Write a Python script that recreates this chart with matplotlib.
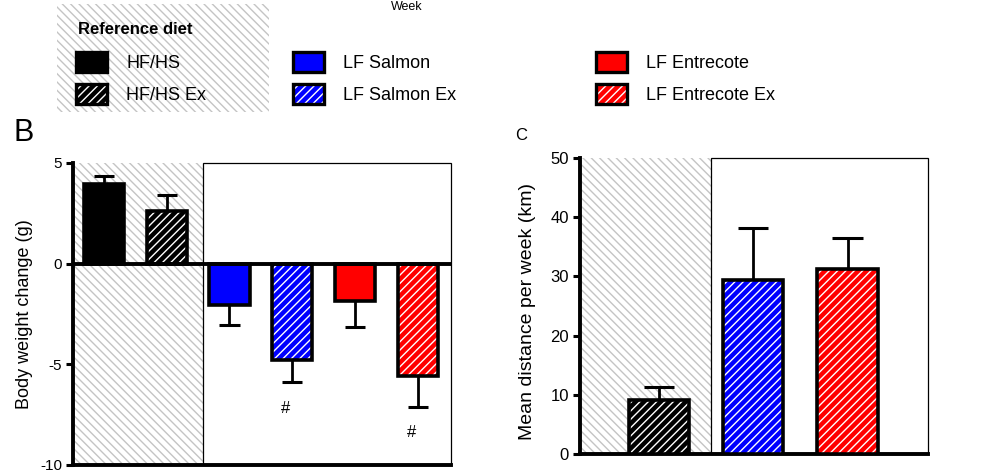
import matplotlib
matplotlib.use('Agg')
import matplotlib.pyplot as plt
from matplotlib.patches import Rectangle

plt.rcParams['font.family'] = ['Liberation Sans', 'DejaVu Sans']
plt.rcParams['axes.unicode_minus'] = False
plt.rcParams['hatch.linewidth'] = 1.0

# groups / legend
groups = ['HF/HS', 'HF/HS Ex', 'LF Salmon', 'LF Salmon Ex', 'LF Entrecote', 'LF Entrecote Ex']
group_colors = ['black', 'black', 'blue', 'blue', 'red', 'red']
group_hatched = [False, True, False, True, False, True]

# panel B: body weight change (g), mean and SEM
weight_change = [3.97, 2.63, -2.03, -4.80, -1.87, -5.58]
weight_sem = [0.37, 0.76, 1.04, 1.07, 1.30, 1.52]
weight_sig = ['', '', '', '#', '', '#']
ticks_b = [-10, -5, 0, 5]

# panel C: mean running distance per week (km), exercise groups only
groups_c = ['HF/HS Ex', 'LF Salmon Ex', 'LF Entrecote Ex']
distance = [9.15, 29.3, 31.2]
distance_sem = [2.15, 8.9, 5.3]
colors_c = ['black', 'blue', 'red']
ticks_c = [0, 10, 20, 30, 40, 50]

W, H = 997, 475
grey = '#c4c4c4'
bar_hatch = '////'
bg_hatch = '\\\\\\\\'

fig = plt.figure(figsize=(W / 100, H / 100), dpi=100)


def fig_rect(x0, y0, w, h, **kw):
    # rectangle given in pixels from top-left
    r = Rectangle((x0 / W, 1 - (y0 + h) / H), w / W, h / H, transform=fig.transFigure, **kw)
    fig.add_artist(r)
    return r


def draw_bars(ax, xs, vals, sems, cols, hatched, width=0.64):
    for x, v, e, c, h in zip(xs, vals, sems, cols, hatched):
        end = v + e if v >= 0 else v - e
        ax.vlines(x, v, end, color='black', lw=2.0, zorder=2)
        ax.hlines(end, x - width / 4, x + width / 4, color='black', lw=2.2, zorder=2)
        if h:
            ax.bar(x, v, width=width, color=c, edgecolor='white', hatch=bar_hatch, lw=0, zorder=3)
        else:
            ax.bar(x, v, width=width, color=c, lw=0, zorder=3)
        ax.bar(x, v, width=width, facecolor='none', edgecolor='black', lw=2.6, zorder=4)


def style_axis(ax, ticks, fs):
    for s in ['top', 'right']:
        ax.spines[s].set_visible(False)
    ax.spines['left'].set_linewidth(2.8)
    ax.spines['bottom'].set_linewidth(2.8)
    ax.set_xticks([])
    ax.set_yticks(ticks)
    ax.tick_params(axis='y', length=5, width=2.2, labelsize=fs, pad=3)


# ---- panel B ----
ax_b = fig.add_axes([73 / W, 10 / H, 378 / W, 302 / H])
xb = list(range(len(groups)))
xlim_b = (-0.494, 5.53)
split_b = 1.579
ax_b.set_xlim(*xlim_b)
ax_b.set_ylim(-10, 5)
ax_b.axvspan(xlim_b[0], split_b, facecolor='white', edgecolor=grey, hatch=bg_hatch, lw=0, zorder=0)
ax_b.add_patch(Rectangle((split_b, -10), xlim_b[1] - split_b, 15, fill=False,
                         edgecolor='black', lw=0.9, zorder=1, clip_on=False))
draw_bars(ax_b, xb, weight_change, weight_sem, group_colors, group_hatched)
ax_b.axhline(0, color='black', lw=2.8, zorder=5)
for x, v, e, s in zip(xb, weight_change, weight_sem, weight_sig):
    if s:
        ax_b.text(x - 0.1, v - e - 1.3, s, ha='center', va='center', fontsize=12)
style_axis(ax_b, ticks_b, 11)
ax_b.set_ylabel('Body weight change (g)', fontsize=13)
ax_b.yaxis.set_label_coords(-0.105, 0.5)

# ---- panel C ----
ax_c = fig.add_axes([580 / W, 20.7 / H, 348 / W, 296.6 / H])
xc = list(range(len(groups_c)))
xlim_c = (-0.838, 2.854)
split_c = 0.552
ax_c.set_xlim(*xlim_c)
ax_c.set_ylim(0, 50)
ax_c.axvspan(xlim_c[0], split_c, facecolor='white', edgecolor=grey, hatch=bg_hatch, lw=0, zorder=0)
ax_c.add_patch(Rectangle((split_c, 0), xlim_c[1] - split_c, 50, fill=False,
                         edgecolor='black', lw=0.9, zorder=1, clip_on=False))
draw_bars(ax_c, xc, distance, distance_sem, colors_c, [True] * 3)
style_axis(ax_c, ticks_c, 12)
ax_c.set_ylabel('Mean distance per week (km)', fontsize=14)
ax_c.yaxis.set_label_coords(-0.125, 0.48)

# ---- panel letters and header ----
fig.text(13 / W, 1 - 141 / H, 'B', fontsize=22, ha='left', va='baseline')
fig.text(515 / W, 1 - 140 / H, 'C', fontsize=12, ha='left', va='baseline')
fig.text(407 / W, 1 - 1 / H, 'Week', fontsize=9, ha='center', va='top')

# ---- legend ----
fig_rect(57, 4, 212, 108, facecolor='white', edgecolor=grey, hatch=bg_hatch, lw=0)
fig.text(78 / W, 1 - 29 / H, 'Reference diet', fontsize=12, fontweight='bold', ha='left', va='center')
sq_x = [76, 293, 596]
txt_x = [126, 343, 646]
row_y = [52, 84]
for i, (g, c, h) in enumerate(zip(groups, group_colors, group_hatched)):
    col, row = i // 2, i % 2
    if h:
        fig_rect(sq_x[col], row_y[row], 31, 20, facecolor=c, edgecolor='white', hatch=bar_hatch, lw=0)
    else:
        fig_rect(sq_x[col], row_y[row], 31, 20, facecolor=c, lw=0)
    fig_rect(sq_x[col], row_y[row], 31, 20, facecolor='none', edgecolor='black', lw=2.4)
    fig.text(txt_x[col] / W, 1 - (row_y[row] + 11) / H, g, fontsize=13, ha='left', va='center')

fig.savefig('out.png', dpi=100)
